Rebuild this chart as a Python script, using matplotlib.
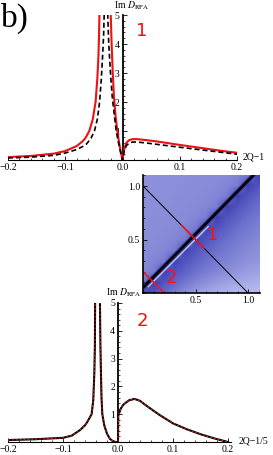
import numpy as np
import matplotlib
matplotlib.use("Agg")
import matplotlib.pyplot as plt
from matplotlib.colors import LinearSegmentedColormap
from matplotlib.ticker import MultipleLocator, FixedLocator, FixedFormatter

plt.rcParams['mathtext.fontset'] = 'stix'
SERIF = ['Liberation Serif', 'DejaVu Serif']

# ---------------- data: top panel (cut 1) ----------------
top_red_x = [-0.2, -0.16, -0.12, -0.1, -0.08, -0.07, -0.065, -0.058, -0.052, -0.047, -0.044, -0.042, -0.041, -0.040,
             -0.021, -0.019, -0.017, -0.015, -0.012, -0.009, -0.006, -0.003, 0.0,
             0.003, 0.007, 0.012, 0.018, 0.025, 0.04, 0.06, 0.08, 0.1, 0.125, 0.15, 0.175, 0.2]
top_red_y = [0.10, 0.14, 0.22, 0.31, 0.48, 0.64, 0.75, 1.0, 1.4, 2.0, 2.8, 3.6, 4.3, 5.3,
             5.3, 4.0, 3.0, 2.2, 1.5, 1.0, 0.6, 0.28, 0.0,
             0.38, 0.60, 0.69, 0.72, 0.72, 0.69, 0.64, 0.58, 0.52, 0.45, 0.38, 0.31, 0.25]
top_blk_x = [-0.2, -0.16, -0.12, -0.1, -0.08, -0.07, -0.063, -0.055, -0.049, -0.044, -0.040, -0.037, -0.035, -0.033, -0.0316,
             -0.0263, -0.024, -0.021, -0.018, -0.014, -0.011, -0.007, -0.0035, 0.0,
             0.003, 0.007, 0.012, 0.018, 0.025, 0.04, 0.06, 0.08, 0.1, 0.125, 0.15, 0.175, 0.2]
top_blk_y = [0.07, 0.10, 0.16, 0.24, 0.36, 0.46, 0.55, 0.75, 1.0, 1.4, 2.0, 2.8, 3.5, 4.3, 5.3,
             5.3, 4.0, 3.0, 2.2, 1.5, 1.0, 0.6, 0.28, 0.0,
             0.32, 0.50, 0.59, 0.62, 0.62, 0.59, 0.54, 0.49, 0.44, 0.38, 0.32, 0.26, 0.20]

# ---------------- data: bottom panel (cut 2) ----------------
bot_x = [-0.2, -0.15, -0.1, -0.084, -0.069, -0.06, -0.055, -0.048, -0.045, -0.043, -0.042, -0.0415,
         -0.033, -0.032, -0.031, -0.030, -0.0285, -0.025, -0.02, -0.015, -0.01, -0.005, 0.0,
         0.0005, 0.005, 0.01, 0.02, 0.03, 0.04, 0.05, 0.075, 0.1, 0.125, 0.15, 0.175, 0.2]
bot_y = [0.07, 0.10, 0.15, 0.23, 0.43, 0.60, 0.75, 1.0, 1.5, 2.5, 3.5, 5.3,
         5.3, 3.5, 2.5, 1.6, 1.0, 0.6, 0.3, 0.12, 0.04, 0.0, 0.0,
         0.95, 1.2, 1.35, 1.5, 1.55, 1.48, 1.33, 0.98, 0.67, 0.46, 0.28, 0.13, 0.0]

x_ticks = [-0.2, -0.1, 0.0, 0.1, 0.2]
x_tick_labels = ['\u22120.2', '\u22120.1', '0.0', '0.1', '0.2']
y_ticks = [1, 2, 3, 4, 5]
y_tick_labels = ['1', '2', '3', '4', '5']

# ---------------- data: density inset ----------------
grid_x = [0.0, 0.1, 0.2, 0.3, 0.4, 0.5, 0.6, 0.7, 0.8, 0.9, 1.0, 1.1]
grid_y = [0.0, 0.1, 0.2, 0.3, 0.4, 0.5, 0.6, 0.7, 0.8, 0.9, 1.0, 1.1]
density = [
    [0.90, 0.80, 0.68, 0.56, 0.44, 0.36, 0.30, 0.25, 0.21, 0.18, 0.16, 0.15],
    [0.58, 0.92, 0.80, 0.70, 0.60, 0.51, 0.44, 0.38, 0.33, 0.29, 0.26, 0.24],
    [0.50, 0.55, 0.90, 0.80, 0.72, 0.63, 0.56, 0.50, 0.45, 0.40, 0.36, 0.33],
    [0.47, 0.50, 0.55, 0.90, 0.80, 0.72, 0.64, 0.57, 0.52, 0.47, 0.43, 0.40],
    [0.46, 0.47, 0.50, 0.55, 0.90, 0.80, 0.72, 0.64, 0.58, 0.53, 0.48, 0.44],
    [0.45, 0.46, 0.47, 0.50, 0.55, 0.90, 0.80, 0.72, 0.64, 0.58, 0.53, 0.49],
    [0.45, 0.45, 0.46, 0.47, 0.50, 0.55, 0.90, 0.80, 0.72, 0.64, 0.58, 0.53],
    [0.44, 0.45, 0.45, 0.46, 0.47, 0.50, 0.55, 0.90, 0.80, 0.72, 0.64, 0.58],
    [0.44, 0.44, 0.45, 0.45, 0.46, 0.47, 0.50, 0.55, 0.90, 0.80, 0.72, 0.64],
    [0.43, 0.44, 0.44, 0.45, 0.45, 0.46, 0.47, 0.50, 0.55, 0.90, 0.80, 0.72],
    [0.43, 0.43, 0.44, 0.44, 0.45, 0.45, 0.46, 0.47, 0.50, 0.55, 0.90, 0.80],
    [0.42, 0.43, 0.43, 0.44, 0.44, 0.45, 0.45, 0.46, 0.47, 0.50, 0.55, 0.90],
]
ridge_x = [0.0, 1.11]
ridge_y = [0.05, 1.16]
light_x = [0.05, 0.62]
light_y = [0.06, 0.62]
anti_x = [0.0, 1.0]
anti_y = [1.0, 0.0]
cut1_x = [0.37, 0.58]
cut1_y = [0.63, 0.42]
cut2_x = [0.0, 0.2]
cut2_y = [0.2, 0.0]
inset_ticks = [0.5, 1.0]
inset_tick_labels = ['0.5', '1.0']

# ---------------- figure ----------------
W, H = 273, 455
fig = plt.figure(figsize=(W / 100, H / 100), dpi=100)


def rect(l, r, t, b):
    return [l / W, 1 - b / H, (r - l) / W, (b - t) / H]


def style_line_axes(ax, xlim):
    ax.set_xlim(*xlim)
    ax.set_ylim(0, 5)
    for s in ['top', 'right']:
        ax.spines[s].set_visible(False)
    ax.spines['left'].set_position(('data', 0))
    ax.spines['bottom'].set_position(('data', 0))
    ax.spines['left'].set_linewidth(1.3)
    ax.spines['bottom'].set_linewidth(0.8)
    ax.patch.set_alpha(0)
    ax.xaxis.set_major_locator(FixedLocator(x_ticks))
    ax.xaxis.set_major_formatter(FixedFormatter(x_tick_labels))
    ax.xaxis.set_minor_locator(MultipleLocator(0.02))
    ax.yaxis.set_major_locator(FixedLocator(y_ticks))
    ax.yaxis.set_major_formatter(FixedFormatter(y_tick_labels))
    ax.yaxis.set_minor_locator(MultipleLocator(0.2))
    ax.tick_params(which='major', direction='in', length=3, width=0.6, pad=2, labelsize=7)
    ax.tick_params(which='minor', direction='in', length=1.5, width=0.5)
    for lab in ax.get_xticklabels() + ax.get_yticklabels():
        lab.set_family(SERIF)


# top panel
ax1 = fig.add_axes(rect(8, 237, 15, 160))
style_line_axes(ax1, (-0.2, 0.2))
ax1.plot(top_red_x, top_red_y, color='#ee1111', lw=1.5, zorder=3)
ax1.plot(top_blk_x, top_blk_y, color='black', lw=1.2, ls=(0, (3, 1.8)), zorder=4)
ax1.text(0.034, 4.45, '1', color='#ee1111', fontsize=13, ha='center', va='center')

# bottom panel
ax2 = fig.add_axes(rect(8, 230.75, 303, 442))
style_line_axes(ax2, (-0.2, 0.205))
ax2.plot(bot_x, bot_y, color='black', lw=1.5, zorder=3)
ax2.plot(bot_x, bot_y, color='#ee2222', lw=0.7, ls=(0, (2, 2)), zorder=4)
ax2.text(0.044, 4.35, '2', color='#ee1111', fontsize=13, ha='center', va='center')

# axis annotations
fig.text(132 / W, 1 - 6 / H, r'Im $D_{\mathrm{RPA}}$', fontsize=7, ha='center', va='center', family=SERIF)
fig.text(141 / W, 1 - 293 / H, r'Im $D_{\mathrm{RPA}}$', fontsize=7, ha='right', va='center', family=SERIF)
fig.text(243 / W, 1 - 157 / H, '2Q\u22121', fontsize=7, ha='left', va='center', family=SERIF)
fig.text(239 / W, 1 - 441 / H, '2Q\u22121/5', fontsize=7, ha='left', va='center', family=SERIF)
fig.text(1 / W, 1 - 18 / H, 'b)', fontsize=24, ha='left', va='center', family=SERIF)

# density inset
ax3 = fig.add_axes(rect(143, 260, 175, 293))
cmap = LinearSegmentedColormap.from_list('blues_mm', [
    (0.0, '#c9cbf2'), (0.2, '#b2b5ec'), (0.45, '#8a8ed9'), (0.6, '#7276cf'),
    (0.75, '#5a5dc5'), (0.9, '#4042b2'), (1.0, '#15154a')])
dx = (grid_x[1] - grid_x[0]) / 2
dy = (grid_y[1] - grid_y[0]) / 2
ax3.imshow(np.array(density), origin='lower', cmap=cmap, vmin=0, vmax=1,
           extent=(grid_x[0] - dx, grid_x[-1] + dx, grid_y[0] - dy, grid_y[-1] + dy),
           interpolation='bilinear', aspect='auto')
ax3.plot(light_x, light_y, color='#d8dcf6', lw=1.0, alpha=0.85)
ax3.plot(ridge_x, ridge_y, color='#2a2a80', lw=3.4, alpha=0.6, solid_capstyle='butt')
ax3.plot(ridge_x, ridge_y, color='black', lw=1.9, solid_capstyle='butt')
ax3.plot(anti_x, anti_y, color='black', lw=0.7)
ax3.plot(cut1_x, cut1_y, color='#ff1111', lw=1.1)
ax3.plot(cut2_x, cut2_y, color='#ff1111', lw=1.1)
ax3.text(0.66, 0.54, '1', color='#ff1111', fontsize=13, ha='center', va='center')
ax3.text(0.27, 0.14, '2', color='#ff1111', fontsize=13, ha='center', va='center')
ax3.set_xlim(0, 1.114)
ax3.set_ylim(0, 1.103)
for s in ['top', 'right']:
    ax3.spines[s].set_visible(False)
for s in ['left', 'bottom']:
    ax3.spines[s].set_linewidth(1.2)
ax3.xaxis.set_major_locator(FixedLocator(inset_ticks))
ax3.xaxis.set_major_formatter(FixedFormatter(inset_tick_labels))
ax3.yaxis.set_major_locator(FixedLocator(inset_ticks))
ax3.yaxis.set_major_formatter(FixedFormatter(inset_tick_labels))
ax3.xaxis.set_minor_locator(MultipleLocator(0.1))
ax3.yaxis.set_minor_locator(MultipleLocator(0.1))
ax3.tick_params(which='major', direction='in', length=3, width=0.6, pad=2, labelsize=7)
ax3.tick_params(which='minor', direction='in', length=1.5, width=0.5)
for lab in ax3.get_xticklabels() + ax3.get_yticklabels():
    lab.set_family(SERIF)

fig.savefig('out.png', dpi=100)
